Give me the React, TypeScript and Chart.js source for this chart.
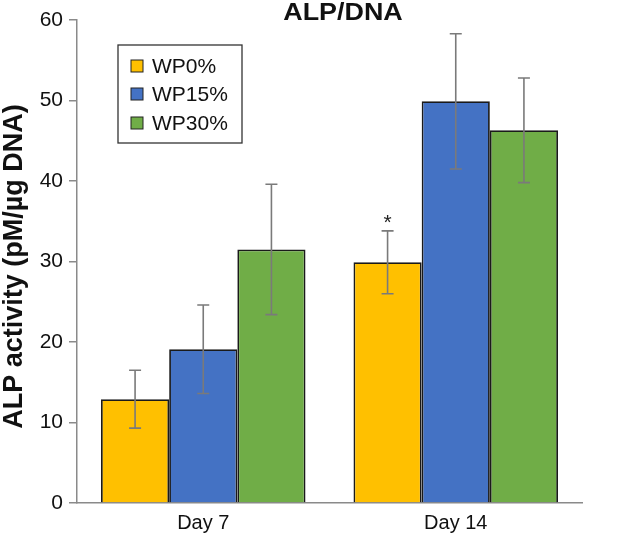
import React, { useEffect, useRef } from 'react';
import { Chart, registerables } from 'chart.js';

Chart.register(...registerables);

const categories = ['Day 7', 'Day 14'];
const seriesNames = ['WP0%', 'WP15%', 'WP30%'];
const wp0 = [12.9, 29.9];
const wp15 = [19.1, 49.9];
const wp30 = [31.5, 46.3];
const wp0Err = [3.6, 3.9];
const wp15Err = [5.5, 8.4];
const wp30Err = [8.1, 6.5];
const seriesColors = ['#FFC000', '#4472C4', '#70AD47'];
const significance = [['', '*'], ['', ''], ['', '']];
const yMin = 0;
const yMax = 60;
const yStep = 10;
const chartTitle = 'ALP/DNA';
const yTitle = 'ALP activity (pM/µg DNA)';

const FONT = '"Liberation Sans", Arial, Helvetica, sans-serif';

const errorBarPlugin = {
  id: 'errorBars',
  afterDatasetsDraw(chart: any) {
    const ctx = chart.ctx;
    const y = chart.scales.y;
    const errs = [wp0Err, wp15Err, wp30Err];
    ctx.save();
    chart.data.datasets.forEach((ds: any, i: number) => {
      const meta = chart.getDatasetMeta(i);
      meta.data.forEach((bar: any, j: number) => {
        const v = ds.data[j];
        const e = errs[i][j];
        const x = bar.x;
        const yTop = y.getPixelForValue(v + e);
        const yBot = y.getPixelForValue(v - e);
        ctx.strokeStyle = '#7a7a7a';
        ctx.lineWidth = 1.6;
        ctx.beginPath();
        ctx.moveTo(x, yTop);
        ctx.lineTo(x, yBot);
        ctx.moveTo(x - 6, yTop);
        ctx.lineTo(x + 6, yTop);
        ctx.moveTo(x - 6, yBot);
        ctx.lineTo(x + 6, yBot);
        ctx.stroke();
        const mark = significance[i][j];
        if (mark) {
          ctx.fillStyle = '#222';
          ctx.font = `21px ${FONT}`;
          ctx.textAlign = 'center';
          ctx.textBaseline = 'alphabetic';
          ctx.fillText(mark, x, yTop - 2);
        }
      });
    });
    ctx.restore();
  },
};

const decorPlugin = {
  id: 'decor',
  afterDraw(chart: any) {
    const ctx = chart.ctx;
    const area = chart.chartArea;
    ctx.save();
    // title (slightly wide lettering, as in the reference)
    ctx.save();
    ctx.translate(343, 20);
    ctx.scale(1.12, 1);
    ctx.fillStyle = '#111';
    ctx.font = `bold 24px ${FONT}`;
    ctx.textAlign = 'center';
    ctx.textBaseline = 'alphabetic';
    ctx.fillText(chartTitle, 0, 0);
    ctx.restore();
    // y title
    ctx.save();
    ctx.translate(22, (area.top + area.bottom) / 2 + 5);
    ctx.rotate(-Math.PI / 2);
    ctx.fillStyle = '#111';
    ctx.font = `bold 27px ${FONT}`;
    ctx.textAlign = 'center';
    ctx.textBaseline = 'alphabetic';
    ctx.fillText(yTitle, 0, 0);
    ctx.restore();
    // legend
    const bx = 118, by = 45, bw = 124, bh = 98;
    ctx.fillStyle = '#ffffff';
    ctx.fillRect(bx, by, bw, bh);
    ctx.strokeStyle = '#333';
    ctx.lineWidth = 1.3;
    ctx.strokeRect(bx, by, bw, bh);
    const rows = [66, 94, 123];
    seriesNames.forEach((name, i) => {
      ctx.fillStyle = seriesColors[i];
      ctx.fillRect(131, rows[i] - 6, 12, 12);
      ctx.strokeStyle = '#222';
      ctx.lineWidth = 1;
      ctx.strokeRect(131, rows[i] - 6, 12, 12);
      ctx.fillStyle = '#111';
      ctx.font = `21px ${FONT}`;
      ctx.textAlign = 'left';
      ctx.textBaseline = 'middle';
      ctx.fillText(name, 152, rows[i] + 1);
    });
    ctx.restore();
  },
};

export default function App() {
  const canvasRef = useRef<HTMLCanvasElement | null>(null);

  useEffect(() => {
    if (!canvasRef.current) return;
    const values = [wp0, wp15, wp30];
    const chart = new Chart(canvasRef.current, {
      type: 'bar',
      data: {
        labels: categories,
        datasets: seriesNames.map((name, i) => ({
          label: name,
          data: values[i],
          backgroundColor: seriesColors[i],
          borderColor: '#1a1a1a',
          borderWidth: 1.8,
          categoryPercentage: 0.81,
          barPercentage: 1.0,
        })),
      },
      options: {
        animation: false,
        responsive: true,
        maintainAspectRatio: false,
        layout: { padding: { top: 20, right: 35, left: 0, bottom: 0 } },
        plugins: {
          legend: { display: false },
          title: { display: false },
          tooltip: { enabled: false },
        },
        scales: {
          x: {
            grid: { display: false, drawTicks: false },
            border: { display: true, color: '#8a8a8a', width: 1.5 },
            ticks: { color: '#111', font: { family: FONT, size: 20 }, padding: 8 },
            afterFit(scale: any) {
              scale.height = 30;
            },
          },
          y: {
            min: yMin,
            max: yMax,
            ticks: { stepSize: yStep, color: '#111', font: { family: FONT, size: 21 }, padding: 6 },
            grid: { drawOnChartArea: false, drawTicks: true, tickLength: 8, color: '#8a8a8a', lineWidth: 1.5 },
            border: { display: true, color: '#8a8a8a', width: 1.5 },
            afterFit(scale: any) {
              scale.width = 77;
            },
          },
        },
      },
      plugins: [errorBarPlugin, decorPlugin],
    });
    return () => chart.destroy();
  }, []);

  return (
    <div style={{ position: 'absolute', left: 0, top: 0, width: 617, height: 533, background: '#fff' }}>
      <canvas ref={canvasRef} />
    </div>
  );
}
